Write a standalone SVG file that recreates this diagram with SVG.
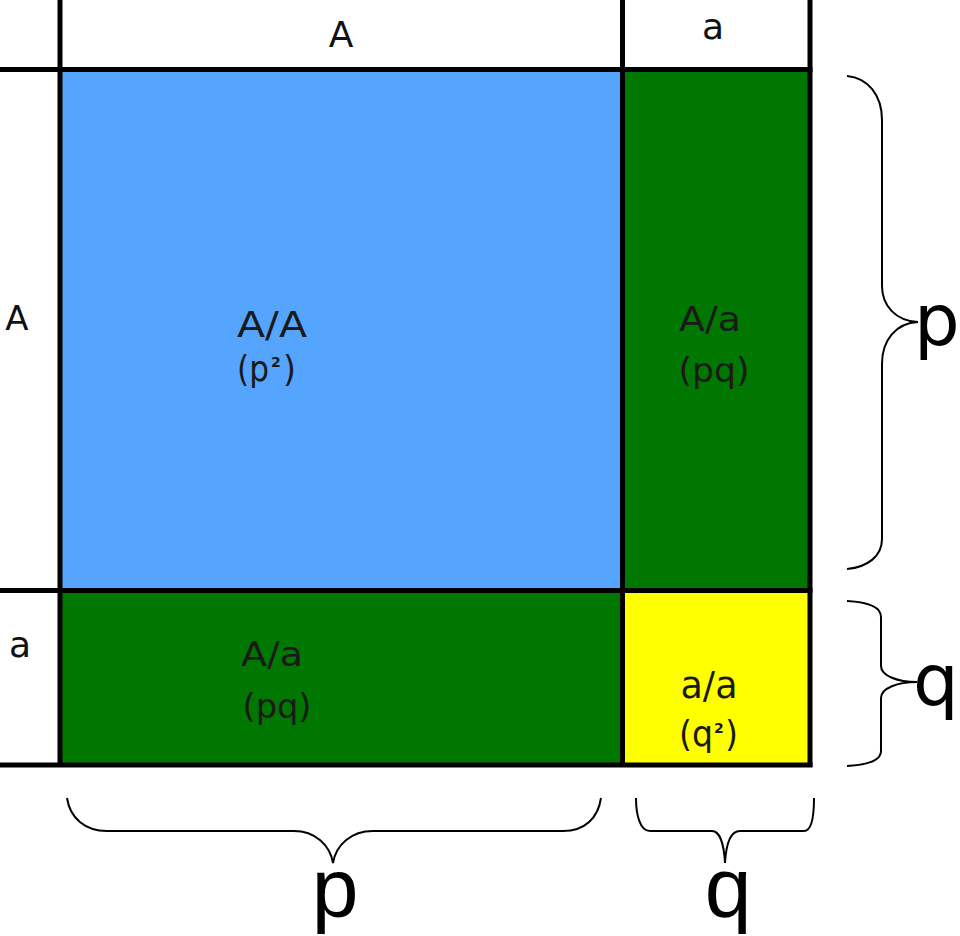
<svg xmlns="http://www.w3.org/2000/svg" width="960" height="936" viewBox="0 0 960 936">
<style>
.lbl{font-family:"DejaVu Sans","Verdana",sans-serif;fill:#111}
.cell{font-family:"DejaVu Sans","Verdana",sans-serif;fill:#1a1a1a}
.grid{stroke:#000;stroke-width:5;fill:none}
.brace{stroke:#000;stroke-width:2;fill:none}
.big{font-family:"DejaVu Sans",sans-serif;fill:#000}
.bigb{font-family:"Liberation Sans",Arial,sans-serif;fill:#000}
</style>
<rect width="960" height="936" fill="#fff"/>
<g id="cell-AA">
<rect x="60" y="69.5" width="562.5" height="521" fill="#55A5FF"/>
<text class="cell" x="272" y="337" font-size="35" text-anchor="middle" textLength="70" lengthAdjust="spacingAndGlyphs">A/A</text>
<text class="cell" x="237" y="381" font-size="35" textLength="32" lengthAdjust="spacingAndGlyphs">(p</text>
<text class="cell" x="271" y="367" font-size="14" font-weight="bold">2</text>
<text class="cell" x="283" y="381" font-size="35" textLength="13" lengthAdjust="spacingAndGlyphs">)</text>
</g>
<g id="cell-Aa-right">
<rect x="622.5" y="69.5" width="187.5" height="521" fill="#007700"/>
<text class="cell" x="710" y="331" font-size="33" text-anchor="middle" textLength="62" lengthAdjust="spacingAndGlyphs">A/a</text>
<text class="cell" x="714" y="382" font-size="33" text-anchor="middle" textLength="71" lengthAdjust="spacingAndGlyphs">(pq)</text>
</g>
<g id="cell-Aa-bottom">
<rect x="60" y="590.5" width="562.5" height="174.5" fill="#007700"/>
<text class="cell" x="272" y="666" font-size="34" text-anchor="middle" textLength="62" lengthAdjust="spacingAndGlyphs">A/a</text>
<text class="cell" x="277" y="718" font-size="34" text-anchor="middle" textLength="69" lengthAdjust="spacingAndGlyphs">(pq)</text>
</g>
<g id="cell-aa">
<rect x="622.5" y="590.5" width="187.5" height="174.5" fill="#FFFF00"/>
<text class="cell" x="709" y="698" font-size="38" text-anchor="middle" textLength="57" lengthAdjust="spacingAndGlyphs">a/a</text>
<text class="cell" x="679" y="746" font-size="36" textLength="34" lengthAdjust="spacingAndGlyphs">(q</text>
<text class="cell" x="714" y="733" font-size="14" font-weight="bold">2</text>
<text class="cell" x="725" y="746" font-size="36" textLength="13" lengthAdjust="spacingAndGlyphs">)</text>
</g>
<g id="grid">
<line class="grid" x1="60" y1="0" x2="60" y2="767"/>
<line class="grid" x1="622.5" y1="0" x2="622.5" y2="767"/>
<line class="grid" x1="810" y1="0" x2="810" y2="767"/>
<line class="grid" x1="0" y1="69.5" x2="812.5" y2="69.5"/>
<line class="grid" x1="0" y1="590.5" x2="812.5" y2="590.5"/>
<line class="grid" x1="0" y1="765" x2="812.5" y2="765"/>
</g>
<g id="headers">
<text class="lbl" x="341" y="47" font-size="36" text-anchor="middle">A</text>
<text class="lbl" x="713" y="39" font-size="36" text-anchor="middle">a</text>
<text class="lbl" x="17" y="330" font-size="34" text-anchor="middle">A</text>
<text class="lbl" x="20" y="657" font-size="36" text-anchor="middle">a</text>
</g>
<g id="connectors">
<path class="brace" d="M847,76 C868,78 882,95 882,120 L882,286 C882,306 896,321 918,322 C896,323 882,340 882,364 L882,539 C882,556 868,567 847,569"/>
<path class="brace" d="M847,601 C866,602 881,606 881,617 L881,666 C881,676 898,682 917,682 C898,682 881,688 881,698 L881,751 C881,761 866,765 847,766"/>
<path class="brace" d="M67,798 C70,818 85,831 107,831 L294,831 C315,831 330,845 333,863 C336,845 351,831 373,831 L563,831 C585,831 598,818 601,798"/>
<path class="brace" d="M636,798 C636,815 640,831 650,831 L712,831 C720,831 724,845 725,863 C726,845 730,831 740,831 L804,831 C812,831 814,815 814,798"/>
</g>
<g id="freq-labels">
<text class="big" x="914" y="345" font-size="72">p</text>
<text class="big" x="913" y="705" font-size="72">q</text>
<text class="bigb" x="335" y="917" font-size="84" text-anchor="middle">p</text>
<text class="bigb" x="728" y="917" font-size="84" text-anchor="middle">q</text>
</g>
</svg>
